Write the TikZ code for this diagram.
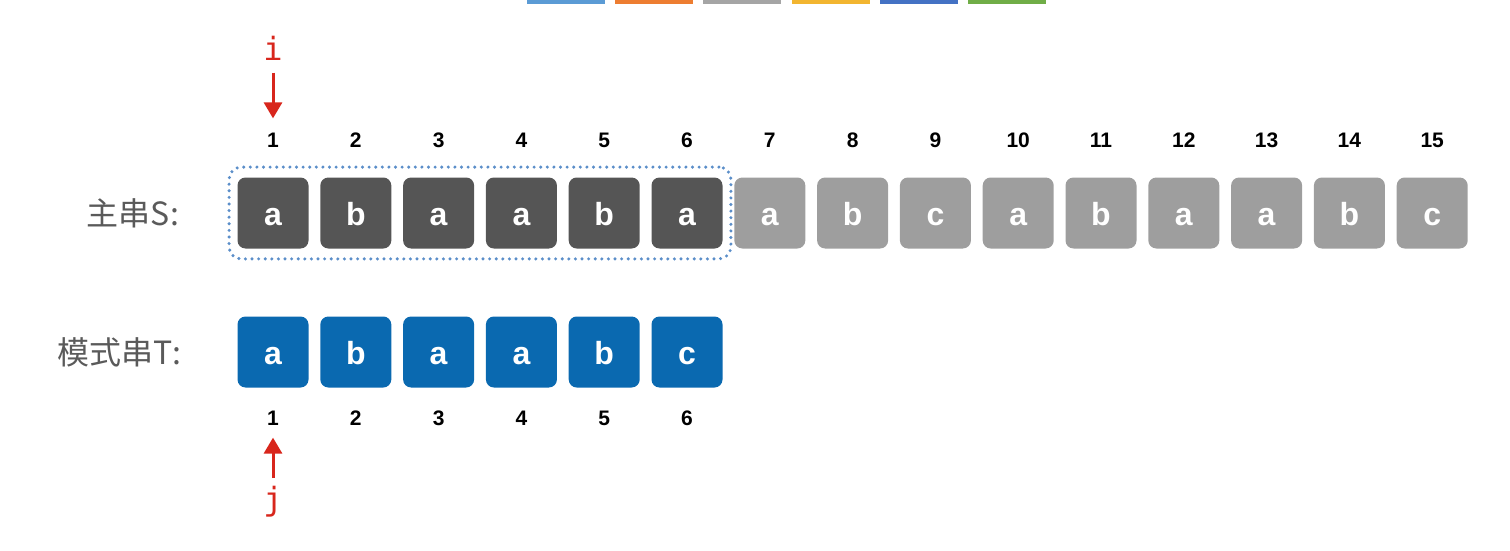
\documentclass[tikz,border=0pt]{standalone}
\usepackage{fontspec}
\setmainfont{Liberation Sans}
\setmonofont{DejaVu Sans Mono}
\newfontfamily\cjk{Noto Sans CJK SC}
\usetikzlibrary{arrows.meta,fit}

\definecolor{darkcell}{HTML}{555555}
\definecolor{lightcell}{HTML}{9E9E9E}
\definecolor{patcell}{HTML}{0A69B0}
\definecolor{winblue}{HTML}{5B8EC9}
\definecolor{ptrred}{HTML}{D8261C}
\definecolor{labelgray}{HTML}{5A5A5A}
\definecolor{barA}{HTML}{5B9BD5}
\definecolor{barB}{HTML}{ED7D31}
\definecolor{barC}{HTML}{A5A5A5}
\definecolor{barD}{HTML}{F2B530}
\definecolor{barE}{HTML}{4472C4}
\definecolor{barF}{HTML}{70AD47}

\tikzset{
    cell/.style={rounded corners=4pt, minimum size=35.5pt, inner sep=0pt,
        text height=12pt, text depth=0pt,
        text=white, font=\bfseries\fontsize{16}{16}\selectfont},
    idx/.style={inner sep=0pt, font=\bfseries\fontsize{10.5}{10.5}\selectfont},
    ptr/.style={inner sep=0pt, text=ptrred, font=\ttfamily\fontsize{16}{16}\selectfont},
    ptrarrow/.style={draw=ptrred, line width=1.5pt, -{Triangle[width=9pt,length=8pt]}},
    rowlabel/.style={anchor=east, text=labelgray, font=\cjk\fontsize{16}{16}\selectfont},
}

\begin{document}
\begin{tikzpicture}[x=0.5pt, y=-0.5pt]
                \useasboundingbox (0,0) rectangle (1510,551);

                \foreach[count=\i] \c in {barA, barB, barC, barD, barE, barF}
                    \fill[\c] (527+88.2*\i-88.2, 0) rectangle ++(78, 4);

                \foreach[count=\i] \ch in {a,b,a,a,b,a,a,b,c,a,b,a,a,b,c} {
                    \ifnum\i<7 \def\cc{darkcell}\else\def\cc{lightcell}\fi
                    \node[cell, fill=\cc] (s\i) at (273+82.8*\i-82.8, 213) {\ch};
                    \node[idx] (sn\i) at (273+82.8*\i-82.8, 140) {\i};
                }

                \foreach[count=\i] \ch in {a,b,a,a,b,c} {
                    \node[cell, fill=patcell] (t\i) at (273+82.8*\i-82.8, 352) {\ch};
                    \node[idx] (tn\i) at (273+82.8*\i-82.8, 418) {\i};
                }

                \node[fit=(s1)(s6), inner xsep=4pt, inner ysep=5pt, rounded corners=6pt,
                      draw=winblue, line width=1.7pt, line cap=round,
                      dash pattern=on 0pt off 3.3pt] (win) {};

                \node[rowlabel] (slabel) at (186, 213) {主串S:};
                \node[rowlabel] (tlabel) at (188, 352) {模式串T:};

                \node[ptr] (ip) at (273, 48) {i};
                \node[ptr] (jp) at (273, 502) {j};
                \draw[ptrarrow, shorten <=6pt, shorten >=7pt] (ip) -- (sn1);
                \draw[ptrarrow, shorten <=4pt, shorten >=6pt] (jp) -- (tn1);
\end{tikzpicture}
\end{document}
